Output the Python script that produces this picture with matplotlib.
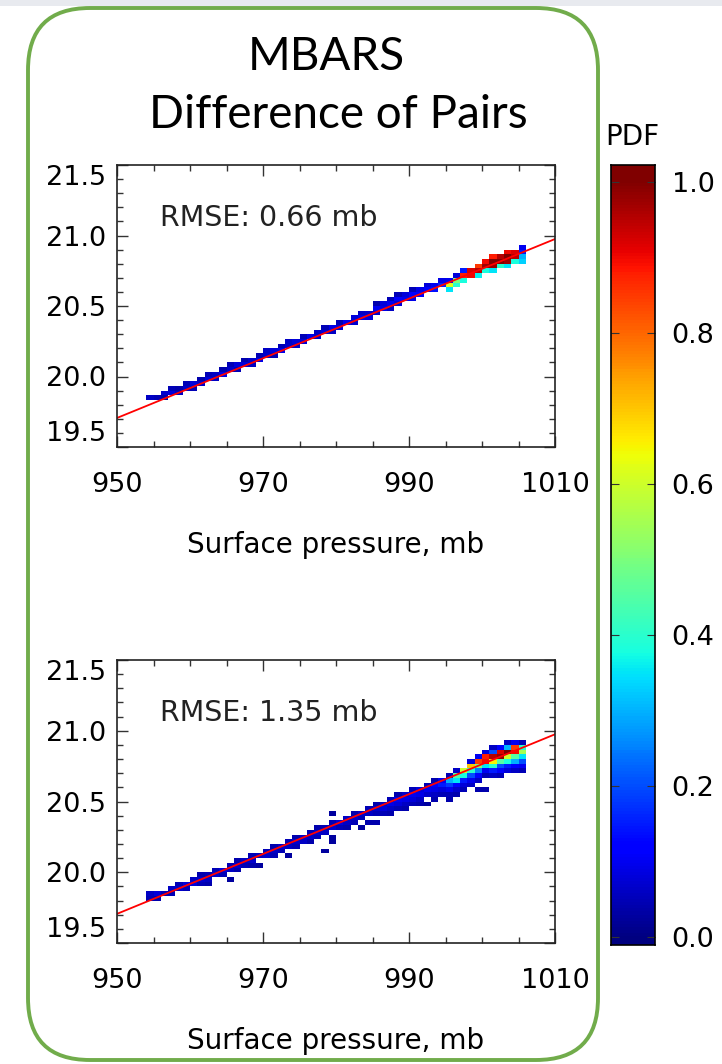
import numpy as np
import matplotlib
matplotlib.use("Agg")
import matplotlib.pyplot as plt
from matplotlib.patches import FancyBboxPatch, Rectangle
from matplotlib.ticker import MultipleLocator

# Data
# Each panel: pressure column (mb), the levels filled in that column, and the PDF of each cell
top_press = [954, 955, 956, 957, 958, 959, 960, 961, 962, 963, 964, 965, 966,
             967, 968, 969, 970, 971, 972, 973, 974, 975, 976, 977, 978, 979,
             980, 981, 982, 983, 984, 985, 986, 987, 988, 989, 990, 991, 992,
             993, 994, 995, 996, 997, 998, 999, 1000, 1001, 1002, 1003, 1004, 1005]
top_levels = [
    [19.85], [19.85], [19.85, 19.88], [19.88, 19.92], [19.88, 19.92],
    [19.92, 19.95], [19.92, 19.95], [19.95, 19.98], [19.98, 20.02], [19.98, 20.02],
    [20.02, 20.05], [20.05, 20.08], [20.05, 20.08], [20.08, 20.12], [20.08, 20.12],
    [20.12, 20.15], [20.15, 20.18], [20.15, 20.18], [20.18, 20.22], [20.22, 20.25],
    [20.22, 20.25], [20.25, 20.28], [20.28], [20.28, 20.32], [20.32, 20.35],
    [20.32, 20.35], [20.35, 20.38], [20.38], [20.38, 20.42], [20.42, 20.45],
    [20.42, 20.45], [20.45, 20.48, 20.52], [20.48, 20.52], [20.48, 20.52, 20.55],
    [20.52, 20.55, 20.58], [20.55, 20.58], [20.55, 20.58, 20.62], [20.58, 20.62],
    [20.62, 20.65], [20.62, 20.65], [20.65, 20.68], [20.62, 20.65, 20.68],
    [20.65, 20.68, 20.72], [20.68, 20.72, 20.75], [20.72, 20.75],
    [20.72, 20.75, 20.78], [20.75, 20.78, 20.82], [20.75, 20.78, 20.82, 20.85],
    [20.78, 20.82, 20.85], [20.78, 20.82, 20.85, 20.88], [20.82, 20.85, 20.88],
    [20.82, 20.85, 20.88, 20.92],
]
top_pdf = [
    [0.06], [0.05], [0.04, 0.07], [0.08, 0.05], [0.06, 0.04],
    [0.07, 0.05], [0.05, 0.08], [0.07, 0.04], [0.08, 0.05], [0.06, 0.06],
    [0.09, 0.04], [0.07, 0.05], [0.05, 0.08], [0.08, 0.04], [0.06, 0.07],
    [0.09, 0.05], [0.07, 0.06], [0.05, 0.08], [0.09, 0.05], [0.07, 0.06],
    [0.06, 0.08], [0.08, 0.05], [0.09], [0.07, 0.06], [0.08, 0.05],
    [0.06, 0.09], [0.08, 0.05], [0.10], [0.07, 0.08], [0.09, 0.06],
    [0.08, 0.07], [0.07, 0.10, 0.04], [0.09, 0.08], [0.06, 0.10, 0.05],
    [0.08, 0.11, 0.05], [0.10, 0.08], [0.09, 0.12, 0.05], [0.11, 0.09],
    [0.12, 0.08], [0.14, 0.10], [0.16, 0.09], [0.35, 0.62, 0.10],
    [0.40, 0.50, 0.08], [0.38, 0.88, 0.15], [0.90, 0.92],
    [0.36, 0.95, 0.85], [0.38, 0.97, 0.90], [0.35, 0.98, 1.00, 0.88],
    [0.40, 1.00, 0.95], [0.35, 0.97, 1.00, 0.90], [0.38, 0.95, 0.92],
    [0.33, 0.30, 0.15, 0.10],
]

bot_press = top_press
bot_levels = [
    [19.82, 19.85], [19.82, 19.85], [19.85], [19.85, 19.88], [19.88, 19.92],
    [19.88, 19.92], [19.92, 19.95], [19.92, 19.95, 19.98], [19.92, 19.95, 19.98],
    [19.98, 20.02], [19.98, 20.02], [19.95, 20.02, 20.05], [20.02, 20.05, 20.08],
    [20.05, 20.08], [20.05, 20.08, 20.12], [20.05, 20.12], [20.12, 20.15],
    [20.12, 20.15, 20.18], [20.15, 20.18], [20.12, 20.18, 20.22],
    [20.18, 20.22, 20.25], [20.22, 20.25], [20.22, 20.25, 20.28],
    [20.25, 20.28, 20.32], [20.15, 20.28, 20.32],
    [20.22, 20.25, 20.32, 20.35, 20.42], [20.32, 20.35], [20.32, 20.35, 20.38],
    [20.35, 20.38, 20.42], [20.32, 20.38, 20.42], [20.35, 20.42, 20.45],
    [20.35, 20.42, 20.45, 20.48], [20.42, 20.45, 20.48],
    [20.42, 20.45, 20.48, 20.52], [20.45, 20.48, 20.52, 20.55],
    [20.45, 20.48, 20.52, 20.55], [20.48, 20.52, 20.55, 20.58],
    [20.48, 20.52, 20.55, 20.58], [20.48, 20.55, 20.58, 20.62],
    [20.52, 20.55, 20.58, 20.62, 20.65], [20.55, 20.58, 20.62, 20.65],
    [20.52, 20.55, 20.58, 20.62, 20.65, 20.68],
    [20.55, 20.58, 20.62, 20.65, 20.68, 20.72],
    [20.58, 20.62, 20.65, 20.68, 20.72],
    [20.62, 20.65, 20.68, 20.72, 20.75, 20.78],
    [20.58, 20.65, 20.68, 20.72, 20.75, 20.78, 20.82],
    [20.58, 20.68, 20.72, 20.75, 20.78, 20.82, 20.85],
    [20.68, 20.72, 20.75, 20.78, 20.82, 20.85, 20.88],
    [20.68, 20.72, 20.75, 20.78, 20.82, 20.85, 20.88],
    [20.72, 20.75, 20.78, 20.82, 20.85, 20.88, 20.92],
    [20.72, 20.75, 20.78, 20.82, 20.85, 20.88, 20.92],
    [20.72, 20.75, 20.78, 20.82, 20.85, 20.88, 20.92],
]
bot_pdf = [
    [0.05, 0.06], [0.04, 0.08], [0.05], [0.05, 0.06], [0.07, 0.05],
    [0.05, 0.08], [0.08, 0.06], [0.05, 0.07, 0.04], [0.04, 0.06, 0.05],
    [0.07, 0.05], [0.05, 0.08], [0.03, 0.06, 0.05], [0.04, 0.07, 0.04],
    [0.05, 0.06], [0.04, 0.07, 0.05], [0.03, 0.06], [0.07, 0.05],
    [0.05, 0.06, 0.04], [0.05, 0.07], [0.03, 0.06, 0.05],
    [0.05, 0.07, 0.04], [0.06, 0.07], [0.04, 0.06, 0.05],
    [0.05, 0.07, 0.04], [0.03, 0.06, 0.05],
    [0.03, 0.03, 0.07, 0.05, 0.03], [0.05, 0.08], [0.04, 0.06, 0.06],
    [0.05, 0.07, 0.04], [0.03, 0.05, 0.07], [0.04, 0.06, 0.05],
    [0.04, 0.05, 0.07, 0.04], [0.05, 0.08, 0.06],
    [0.04, 0.06, 0.09, 0.05], [0.05, 0.08, 0.10, 0.04],
    [0.04, 0.06, 0.09, 0.07], [0.05, 0.08, 0.10, 0.05],
    [0.04, 0.06, 0.09, 0.08], [0.03, 0.07, 0.10, 0.05],
    [0.04, 0.06, 0.09, 0.12, 0.04], [0.05, 0.08, 0.15, 0.10],
    [0.04, 0.05, 0.10, 0.18, 0.30, 0.05],
    [0.04, 0.07, 0.12, 0.35, 0.45, 0.06],
    [0.05, 0.08, 0.15, 0.38, 0.60],
    [0.06, 0.10, 0.20, 0.40, 0.70, 0.08],
    [0.04, 0.06, 0.12, 0.25, 0.50, 0.85, 0.10],
    [0.04, 0.05, 0.10, 0.35, 0.90, 0.88, 0.08],
    [0.06, 0.15, 0.40, 0.65, 0.95, 0.20, 0.06],
    [0.05, 0.12, 0.20, 0.45, 0.98, 0.92, 0.12],
    [0.08, 0.15, 0.38, 0.60, 1.00, 0.30, 0.06],
    [0.06, 0.12, 0.30, 0.45, 0.90, 0.85, 0.10],
    [0.05, 0.10, 0.20, 0.35, 0.55, 0.40, 0.05],
]

# Red reference line, end points
fit_press = [950, 1010]
fit_level = [19.706, 20.975]

rmse_labels = ["RMSE: 0.66 mb", "RMSE: 1.35 mb"]
x_ticks = [950, 970, 990, 1010]
y_ticks = [19.5, 20.0, 20.5, 21.0, 21.5]
cbar_ticks = [0.0, 0.2, 0.4, 0.6, 0.8, 1.0]

W, H = 722, 1064
fig = plt.figure(figsize=(W / 100, H / 100), dpi=100)

# background layer in pixel units for the rounded green frame
bg = fig.add_axes([0, 0, 1, 1], zorder=0)
bg.set_xlim(0, W)
bg.set_ylim(H, 0)
bg.axis("off")
bg.add_patch(Rectangle((0, 0), W, 6, color="#E8EAEF", lw=0))
bg.add_patch(FancyBboxPatch((28, 8), 570, 1052,
                            boxstyle="round,pad=0,rounding_size=62",
                            fill=False, ec="#71AC4B", lw=2.8))


def px_rect(x0, y0, x1, y1):
    return [x0 / W, 1 - y1 / H, (x1 - x0) / W, (y1 - y0) / H]


x_edges = np.arange(950, 1011, 1.0)
y_edges = 19.5 + np.arange(61) / 30.0


def draw_panel(ax, press, levels, pdfs, label):
    counts = [len(l) for l in levels]
    xs = np.repeat(press, counts)
    ys = np.concatenate(levels)
    ws = np.concatenate(pdfs)
    grid, xe, ye = np.histogram2d(xs, ys, bins=[x_edges, y_edges], weights=ws)
    grid = np.ma.masked_where(grid == 0, grid)
    ax.pcolormesh(xe, ye, grid.T, cmap="jet", vmin=0, vmax=1)
    ax.plot(fit_press, fit_level, color="red", lw=1.3)

    ax.set_xlim(950, 1010)
    ax.set_ylim(19.5, 21.5)
    ax.set_xticks(x_ticks)
    ax.set_yticks(y_ticks)
    ax.set_yticklabels([f"{v:.1f}" for v in y_ticks])
    ax.xaxis.set_minor_locator(MultipleLocator(5))
    ax.yaxis.set_minor_locator(MultipleLocator(0.1))
    ax.tick_params(which="both", direction="in", top=True, right=True,
                   color="#333333", width=1.0)
    ax.tick_params(which="major", length=8)
    ax.tick_params(which="minor", length=4)
    ax.tick_params(axis="x", labelsize=19.5, pad=18)
    ax.tick_params(axis="y", labelsize=19.5, pad=8)
    for sp in ax.spines.values():
        sp.set_linewidth(1.2)
        sp.set_color("#222222")
    ylabels = ax.get_yticklabels()
    ylabels[0].set_va("bottom")
    ylabels[-1].set_va("top")
    ax.set_xlabel("Surface pressure, mb", fontsize=20, labelpad=24)
    ax.text(0.098, 0.812, label, transform=ax.transAxes, fontsize=20.5,
            ha="left", va="center", color="#222222")


ax1 = fig.add_axes(px_rect(117, 165, 555, 447))
draw_panel(ax1, top_press, top_levels, top_pdf, rmse_labels[0])
ax2 = fig.add_axes(px_rect(117, 660, 555, 943))
draw_panel(ax2, bot_press, bot_levels, bot_pdf, rmse_labels[1])

# colour bar
cax = fig.add_axes(px_rect(611, 165, 655, 945))
cb_edges = np.linspace(-0.01, 1.022, 257)
cb_vals = np.clip((cb_edges[:-1] + cb_edges[1:]) / 2, 0, 1)
cax.pcolormesh([0, 1], cb_edges, cb_vals[:, None], cmap="jet", vmin=0, vmax=1)
cax.set_xlim(0, 1)
cax.set_ylim(-0.01, 1.022)
cax.set_xticks([])
cax.set_yticks(cbar_ticks)
cax.set_yticklabels([f"{v:.1f}" for v in cbar_ticks])
cax.yaxis.tick_right()
cax.tick_params(axis="y", direction="in", left=True, right=True, length=6,
                labelsize=19.5, pad=12, color="#333333")
for sp in cax.spines.values():
    sp.set_linewidth(1.2)
fig.text(632 / W, 1 - 137 / H, "PDF", fontsize=20, ha="center", va="center")

# titles
fig.text(326 / W, 1 - 57 / H, "MBARS", fontsize=33, family="Lato",
         ha="center", va="center")
fig.text(338 / W, 1 - 115 / H, "Difference of Pairs", fontsize=33,
         family="Lato", ha="center", va="center")

fig.savefig("out.png", dpi=100)
